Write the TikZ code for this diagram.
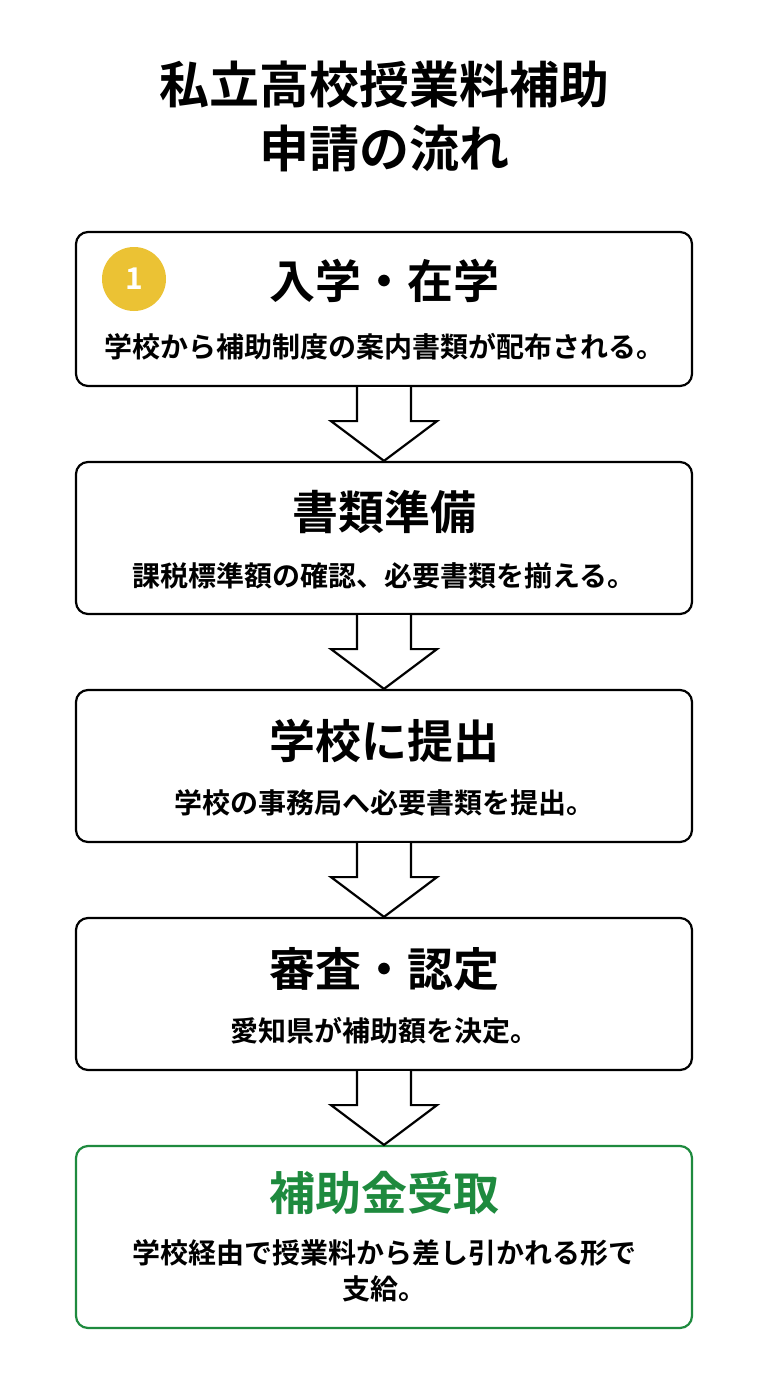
\documentclass[tikz,border=0pt]{standalone}
\usepackage{fontspec}
\newfontfamily\jp{Noto Sans CJK JP Bold}
\usetikzlibrary{calc}
\definecolor{okgreen}{HTML}{1E8A3E}
\definecolor{badge}{HTML}{EBC234}
\tikzset{
  stepbox/.style={draw, line width=2.2pt, rounded corners=12pt, fill=white,
    minimum width=616pt, inner sep=0pt},
  headtxt/.style={font=\jp\fontsize{46}{50}\selectfont},
  bodytxt/.style={font=\jp\fontsize{28}{36}\selectfont, align=center},
  flow/.style={draw, line width=2.2pt, fill=white, line join=miter}
}
\newcommand{\flowarrow}[2]{%
  \draw[flow] ($(#1.south)+(-27,0)$) -- ($(#1.south)+(-27,34)$) -- ($(#1.south)+(-53,34)$)
    -- (#2.north) -- ($(#1.south)+(53,34)$) -- ($(#1.south)+(27,34)$) -- ($(#1.south)+(27,0)$);}
\begin{document}
\begin{tikzpicture}[x=1pt,y=-1pt]
  \useasboundingbox[fill=white] (0,0) rectangle (768,1376);

  % title
  \node[font=\jp\fontsize{50}{64}\selectfont, align=center] (title) at (384,116)
    {私立高校授業料補助\\申請の流れ};

  % boxes
  \node[stepbox, minimum height=154pt] (b1) at (384,309) {};
  \node[stepbox, minimum height=152pt] (b2) at (384,538) {};
  \node[stepbox, minimum height=152pt] (b3) at (384,766) {};
  \node[stepbox, minimum height=152pt] (b4) at (384,994) {};
  \node[stepbox, draw=okgreen, minimum height=182pt] (b5) at (384,1237) {};

  % arrows
  \flowarrow{b1}{b2}
  \flowarrow{b2}{b3}
  \flowarrow{b3}{b4}
  \flowarrow{b4}{b5}

  % texts
  \node[circle, fill=badge, minimum size=64pt, text=white,
    font=\jp\fontsize{30}{30}\selectfont] (n1) at (134,279) {1};
  \node[headtxt] (h1) at (384,281) {入学・在学};
  \node[bodytxt] (t1) at (384,347) {学校から補助制度の案内書類が配布される。};
  \node[headtxt] (h2) at (384,512) {書類準備};
  \node[bodytxt] (t2) at (384,576) {課税標準額の確認、必要書類を揃える。};
  \node[headtxt] (h3) at (384,741) {学校に提出};
  \node[bodytxt] (t3) at (384,803) {学校の事務局へ必要書類を提出。};
  \node[headtxt] (h4) at (384,969) {審査・認定};
  \node[bodytxt] (t4) at (384,1031) {愛知県が補助額を決定。};
  \node[headtxt, text=okgreen] (h5) at (384,1193) {補助金受取};
  \node[bodytxt] (t5) at (384,1271) {学校経由で授業料から差し引かれる形で\\支給。};
\end{tikzpicture}
\end{document}
